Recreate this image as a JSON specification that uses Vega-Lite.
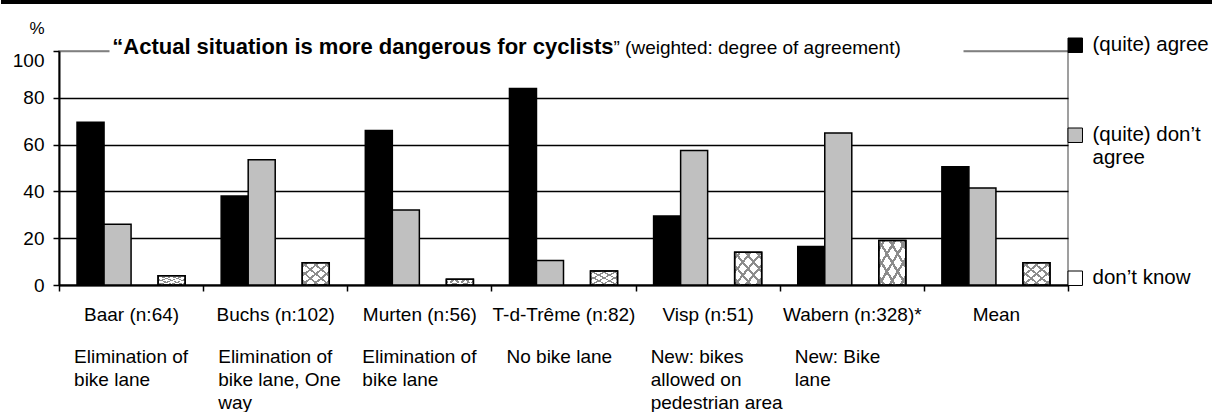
{
  "$schema": "https://vega.github.io/schema/vega-lite/v6.json",
  "background": "white",
  "padding": 0,
  "spacing": 14,
  "columns": 1,
  "align": "none",
  "resolve": {"legend": {"fill": "independent"}},
  "config": {"font": "Liberation Sans", "view": {"stroke": null}},
  "datasets": {
    "bars": [
      {"site": "Baar (n:64)", "series": "(quite) agree", "value": 69.5},
      {"site": "Baar (n:64)", "series": "(quite) don’t agree", "value": 26},
      {"site": "Baar (n:64)", "series": "don’t know", "value": 4},
      {"site": "Buchs (n:102)", "series": "(quite) agree", "value": 38},
      {"site": "Buchs (n:102)", "series": "(quite) don’t agree", "value": 53.5},
      {"site": "Buchs (n:102)", "series": "don’t know", "value": 9.5},
      {"site": "Murten (n:56)", "series": "(quite) agree", "value": 66},
      {"site": "Murten (n:56)", "series": "(quite) don’t agree", "value": 32},
      {"site": "Murten (n:56)", "series": "don’t know", "value": 2.5},
      {"site": "T-d-Trême (n:82)", "series": "(quite) agree", "value": 84},
      {"site": "T-d-Trême (n:82)", "series": "(quite) don’t agree", "value": 10.5},
      {"site": "T-d-Trême (n:82)", "series": "don’t know", "value": 6},
      {"site": "Visp (n:51)", "series": "(quite) agree", "value": 29.5},
      {"site": "Visp (n:51)", "series": "(quite) don’t agree", "value": 57.5},
      {"site": "Visp (n:51)", "series": "don’t know", "value": 14},
      {"site": "Wabern (n:328)*", "series": "(quite) agree", "value": 16.5},
      {"site": "Wabern (n:328)*", "series": "(quite) don’t agree", "value": 65},
      {"site": "Wabern (n:328)*", "series": "don’t know", "value": 19},
      {"site": "Mean", "series": "(quite) agree", "value": 50.5},
      {"site": "Mean", "series": "(quite) don’t agree", "value": 41.5},
      {"site": "Mean", "series": "don’t know", "value": 9.5}
    ]
  },
  "concat": [
    {
      "width": 1154,
      "height": 4,
      "view": {"stroke": null},
      "data": {"values": [{}]},
      "mark": {"type": "bar", "fill": "black"},
      "encoding": {
        "x": {"datum": 0, "type": "quantitative", "scale": {"domain": [0, 1], "range": [-58, 1154], "nice": false, "zero": false}, "axis": null},
        "x2": {"datum": 1},
        "y": {"datum": 0, "type": "quantitative", "scale": {"domain": [0, 1], "nice": false}, "axis": null},
        "y2": {"datum": 1}
      }
    },
    {
      "width": 1009,
      "height": 234,
      "view": {"stroke": "#808080", "strokeWidth": 1.5},
      "data": {"name": "bars"},
      "resolve": {"axis": {"x": "independent"}},
      "layer": [
        {
          "transform": [{"filter": "datum.series != 'don’t know'"}],
          "mark": {"type": "bar", "stroke": "black", "strokeWidth": 1.5},
          "encoding": {
            "x": {
              "field": "site", "type": "nominal",
              "scale": {"domain": ["Baar (n:64)", "Buchs (n:102)", "Murten (n:56)", "T-d-Trême (n:82)", "Visp (n:51)", "Wabern (n:328)*", "Mean"], "paddingInner": 0, "paddingOuter": 0},
              "axis": {
                "orient": "bottom", "title": null, "tickBand": "extent", "tickSize": 6, "tickColor": "black", "tickWidth": 1.5,
                "domainColor": "black", "domainWidth": 2, "labelFontSize": 19, "labelColor": "black",
                "labelAngle": 0, "labelPadding": 14, "labelOverlap": false,
                "labelBound": false, "labelLimit": 300
              }
            },
            "xOffset": {"field": "series", "scale": {"domain": ["(quite) agree", "(quite) don’t agree", "gap", "don’t know"], "paddingInner": 0, "paddingOuter": 0.667}},
            "y": {
              "field": "value", "type": "quantitative",
              "scale": {"domain": [0, 100]},
              "axis": {
                "values": [0, 20, 40, 60, 80, 100], "title": "%", "titleAngle": 0, "titleAlign": "right",
                "titleBaseline": "top", "titleX": -15, "titleY": -31, "titleFontSize": 17,
                "titleFontWeight": "normal", "titleColor": "black", "labelFontSize": 19, "labelColor": "black",
                "labelPadding": 9, "tickSize": 6, "tickColor": "black", "tickWidth": 1.5,
                "domainColor": "black", "domainWidth": 2,
                "gridColor": {"condition": {"test": "datum.value == 100", "value": "#808080"}, "value": "black"},
                "gridWidth": 1.5,
                "labelBaseline": {"condition": {"test": "datum.value == 100", "value": "top"}, "value": "middle"},
                "minExtent": 58, "maxExtent": 58
              }
            },
            "fill": {
              "field": "series", "type": "nominal",
              "scale": {"domain": ["(quite) agree", " ", "  ", "(quite) don’t agree", "   ", "    ", "     ", "don’t know"], "range": ["black", "transparent", "transparent", "#c0c0c0", "transparent", "transparent", "transparent", "white"]},
              "legend": {
                "orient": "none", "legendX": 1006, "legendY": -16, "title": null, "padding": 0,
                "symbolType": "square", "symbolSize": 210, "symbolStrokeColor": "black", "symbolStrokeWidth": 1,
                "labelFontSize": 20.5, "labelColor": "black", "labelOffset": 7, "rowPadding": 9, "labelLimit": 200,
                "labelExpr": "datum.label == '(quite) don’t agree' ? ['(quite) don’t', 'agree'] : datum.label",
                "encode": {"symbols": {"update": {"opacity": {"signal": "trim(datum.value) == '' ? 0 : 1"}}}}
              }
            }
          }
        },
        {
          "transform": [{"filter": "datum.series == 'don’t know'"}],
          "mark": {
            "type": "bar", "stroke": "black", "strokeWidth": 1.5,
            "fill": {"gradient": "linear", "x1": 0, "y1": 0, "x2": 1, "y2": 1, "stops": [
              {"offset": 0, "color": "white"}, {"offset": 0.075, "color": "white"}, {"offset": 0.075, "color": "#8c8c8c"}, {"offset": 0.125, "color": "#8c8c8c"}, {"offset": 0.125, "color": "white"},
              {"offset": 0.275, "color": "white"}, {"offset": 0.275, "color": "#8c8c8c"}, {"offset": 0.325, "color": "#8c8c8c"}, {"offset": 0.325, "color": "white"},
              {"offset": 0.475, "color": "white"}, {"offset": 0.475, "color": "#8c8c8c"}, {"offset": 0.525, "color": "#8c8c8c"}, {"offset": 0.525, "color": "white"},
              {"offset": 0.675, "color": "white"}, {"offset": 0.675, "color": "#8c8c8c"}, {"offset": 0.725, "color": "#8c8c8c"}, {"offset": 0.725, "color": "white"},
              {"offset": 0.875, "color": "white"}, {"offset": 0.875, "color": "#8c8c8c"}, {"offset": 0.925, "color": "#8c8c8c"}, {"offset": 0.925, "color": "white"}, {"offset": 1, "color": "white"}
            ]}
          },
          "encoding": {
            "x": {
              "field": "site", "type": "nominal",
              "axis": {
                "orient": "bottom", "title": null, "domain": false, "ticks": false, "tickSize": 0, "grid": false,
                "labelFontSize": 19, "labelColor": "black", "labelAngle": 0, "labelLineHeight": 23,
                "labelAlign": "left", "labelOffset": -57,
                "labelPadding": 62, "labelOverlap": false, "labelBound": false, "labelLimit": 300,
                "labelExpr": "datum.value == 'Baar (n:64)' ? ['Elimination of', 'bike lane'] : datum.value == 'Buchs (n:102)' ? ['Elimination of', 'bike lane, One', 'way'] : datum.value == 'Murten (n:56)' ? ['Elimination of', 'bike lane'] : datum.value == 'T-d-Trême (n:82)' ? 'No bike lane' : datum.value == 'Visp (n:51)' ? ['New: bikes', 'allowed on', 'pedestrian area'] : datum.value == 'Wabern (n:328)*' ? ['New: Bike', 'lane'] : ''"
              }
            },
            "xOffset": {"field": "series"},
            "y": {"field": "value", "type": "quantitative"}
          }
        },
        {
          "transform": [{"filter": "datum.series == 'don’t know'"}],
          "mark": {
            "type": "bar", "stroke": "black", "strokeWidth": 1.5,
            "fill": {"gradient": "linear", "x1": 1, "y1": 0, "x2": 0, "y2": 1, "stops": [
              {"offset": 0, "color": "rgba(255,255,255,0)"}, {"offset": 0.075, "color": "rgba(255,255,255,0)"}, {"offset": 0.075, "color": "#8c8c8c"}, {"offset": 0.125, "color": "#8c8c8c"}, {"offset": 0.125, "color": "rgba(255,255,255,0)"},
              {"offset": 0.275, "color": "rgba(255,255,255,0)"}, {"offset": 0.275, "color": "#8c8c8c"}, {"offset": 0.325, "color": "#8c8c8c"}, {"offset": 0.325, "color": "rgba(255,255,255,0)"},
              {"offset": 0.475, "color": "rgba(255,255,255,0)"}, {"offset": 0.475, "color": "#8c8c8c"}, {"offset": 0.525, "color": "#8c8c8c"}, {"offset": 0.525, "color": "rgba(255,255,255,0)"},
              {"offset": 0.675, "color": "rgba(255,255,255,0)"}, {"offset": 0.675, "color": "#8c8c8c"}, {"offset": 0.725, "color": "#8c8c8c"}, {"offset": 0.725, "color": "rgba(255,255,255,0)"},
              {"offset": 0.875, "color": "rgba(255,255,255,0)"}, {"offset": 0.875, "color": "#8c8c8c"}, {"offset": 0.925, "color": "#8c8c8c"}, {"offset": 0.925, "color": "rgba(255,255,255,0)"}, {"offset": 1, "color": "rgba(255,255,255,0)"}
            ]}
          },
          "encoding": {
            "x": {"field": "site", "type": "nominal", "axis": null},
            "xOffset": {"field": "series"},
            "y": {"field": "value", "type": "quantitative"}
          }
        },
        {
          "data": {"values": [{}]},
          "mark": {"type": "bar", "fill": "white", "width": 854, "xOffset": -27},
          "encoding": {
            "x": {"datum": "T-d-Trême (n:82)", "type": "nominal", "axis": null},
            "y": {"datum": 103, "type": "quantitative"},
            "y2": {"datum": 97}
          }
        },
        {
          "data": {"values": [{}]},
          "mark": {"type": "text", "text": "“Actual situation is more dangerous for cyclists", "fontSize": 22, "fontWeight": "bold", "align": "right", "baseline": "alphabetic", "dx": 50, "dy": 3, "color": "black"},
          "encoding": {
            "x": {"datum": "T-d-Trême (n:82)", "type": "nominal", "axis": null},
            "y": {"datum": 100, "type": "quantitative"}
          }
        },
        {
          "data": {"values": [{}]},
          "mark": {"type": "text", "text": "” (weighted: degree of agreement)", "fontSize": 19, "fontWeight": "normal", "align": "left", "baseline": "alphabetic", "dx": 50, "dy": 3, "color": "black"},
          "encoding": {
            "x": {"datum": "T-d-Trême (n:82)", "type": "nominal", "axis": null},
            "y": {"datum": 100, "type": "quantitative"}
          }
        }
      ]
    }
  ]
}
